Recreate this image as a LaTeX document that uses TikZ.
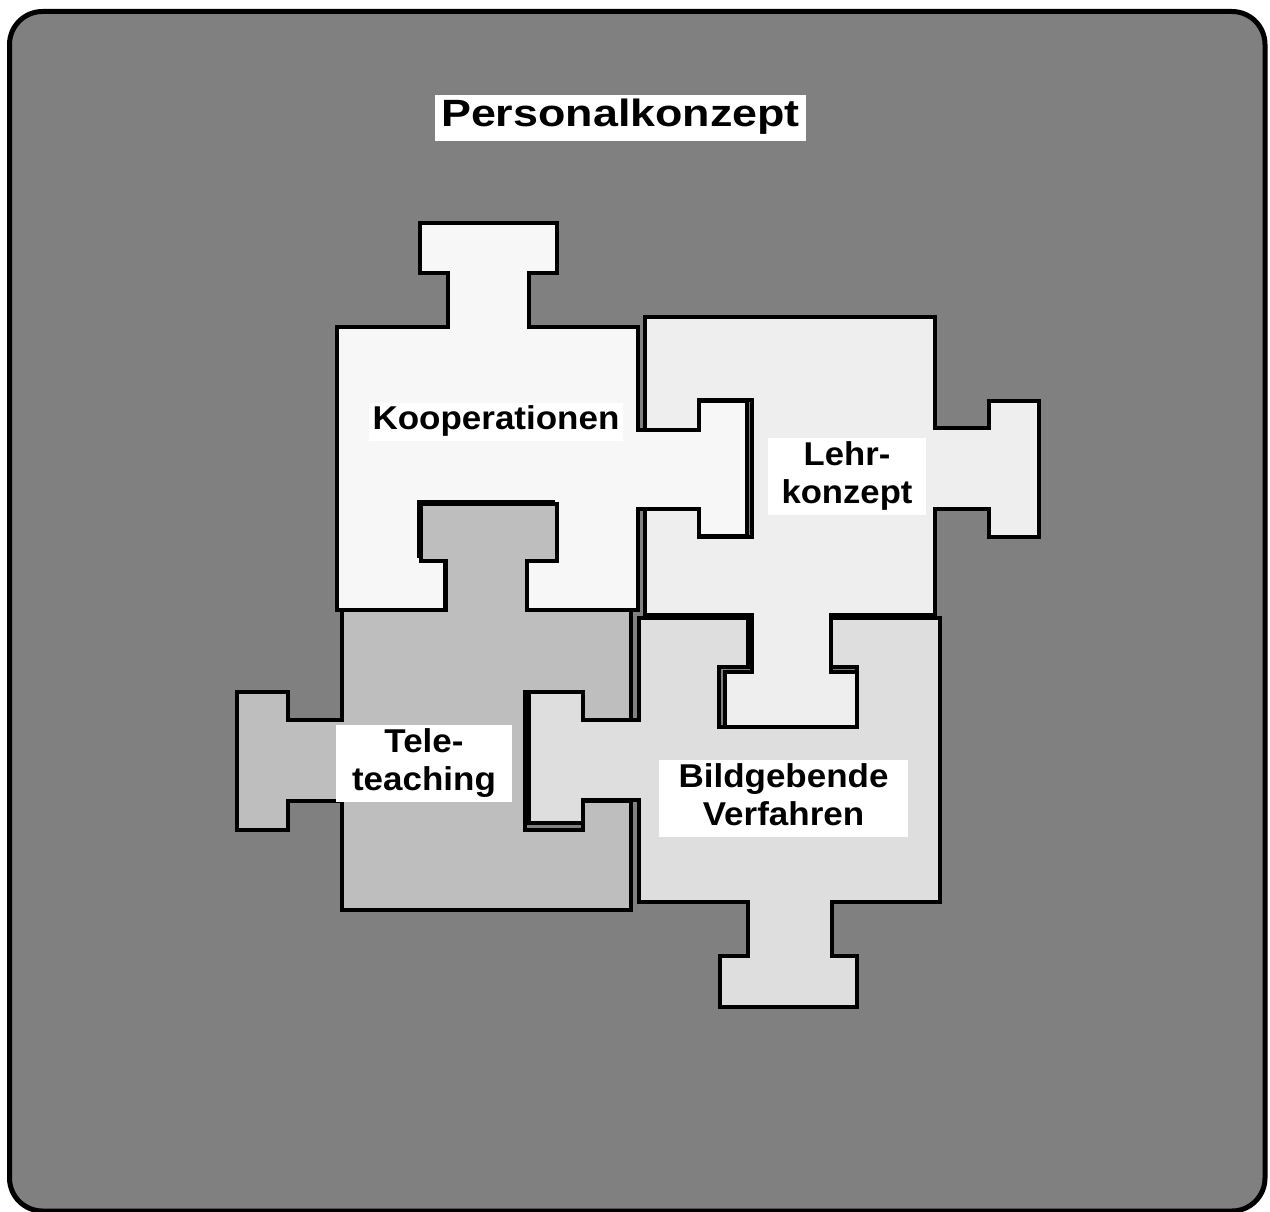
\documentclass[tikz,border=0pt]{standalone}
\usepackage{fontspec}
\setmainfont{Liberation Sans}
\usepackage{graphicx}
\definecolor{bgray}{HTML}{808080}
\definecolor{kcol}{HTML}{F7F7F7}
\definecolor{lcol}{HTML}{EEEEEE}
\definecolor{tcol}{HTML}{BEBEBE}
\definecolor{bcol}{HTML}{DEDEDE}
\newcommand{\lbltext}[2]{\scalebox{#1}[1]{\begin{tabular}{@{}c@{}}#2\end{tabular}}}
\tikzset{
  piece/.style={draw=black, line width=4.8pt, line join=miter},
  lbl/.style={fill=white, inner sep=0pt, font=\bfseries\fontsize{33}{38}\selectfont},
  ttl/.style={fill=white, inner sep=0pt, font=\bfseries\fontsize{38}{44}\selectfont}
}
\begin{document}
\begin{tikzpicture}[x=1pt,y=-1pt]
\useasboundingbox (0,0) rectangle (1270,1212);
% frame
\draw[line width=5pt, fill=bgray, rounded corners=33pt] (9.5,11.5) rectangle (1265,1211);
% Kooperationen
\draw[piece, fill=kcol] (337,327) -- (448,327) -- (448,273) -- (420,273) -- (420,223) -- (557,223) -- (557,273) -- (529,273) -- (529,327) -- (638,327)
  -- (638,430) -- (699,430) -- (699,401) -- (747,401) -- (747,536) -- (699,536) -- (699,509) -- (638,509)
  -- (638,610) -- (525,610) -- (525,556) -- (553,556) -- (553,502) -- (419,502) -- (419,556) -- (445,556) -- (445,610) -- (337,610) -- cycle;
% Lehrkonzept
\draw[piece, fill=lcol] (645,317) -- (935,317) -- (935,428) -- (989,428) -- (989,401) -- (1039,401) -- (1039,537) -- (989,537) -- (989,509) -- (935,509)
  -- (935,615) -- (831,615) -- (831,672) -- (857,672) -- (857,727) -- (725,727) -- (725,672) -- (752,672) -- (752,615) -- (645,615)
  -- (645,509) -- (699,509) -- (699,537) -- (752,537) -- (752,400) -- (699,400) -- (699,430) -- (645,430) -- cycle;
% Teleteaching
\draw[piece, fill=tcol] (342,610) -- (446,610) -- (446,561) -- (421,561) -- (421,504) -- (557,504) -- (557,561) -- (527,561) -- (527,610) -- (631,610)
  -- (631,720) -- (583,720) -- (583,692) -- (525,692) -- (525,830) -- (583,830) -- (583,801) -- (631,801)
  -- (631,910) -- (342,910) -- (342,801) -- (288,801) -- (288,830) -- (237,830) -- (237,692) -- (288,692) -- (288,720) -- (342,720) -- cycle;
% Bildgebende Verfahren
\draw[piece, fill=bcol] (639,618) -- (748,618) -- (748,667) -- (719,667) -- (719,727) -- (857,727) -- (857,667) -- (831,667) -- (831,618) -- (940,618)
  -- (940,902) -- (832,902) -- (832,956) -- (857,956) -- (857,1007) -- (720,1007) -- (720,956) -- (748,956) -- (748,902) -- (639,902)
  -- (639,800) -- (583,800) -- (583,823) -- (529,823) -- (529,692) -- (583,692) -- (583,720) -- (639,720) -- cycle;
% labels
\node[ttl, minimum width=371pt, minimum height=46pt] (title) at (620.5,118) {\lbltext{1.18}{Personalkonzept}};
\node[lbl, minimum width=254pt, minimum height=37pt] (koop) at (496,421.5) {\lbltext{1.06}{Kooperationen}};
\node[lbl, minimum width=158pt, minimum height=77pt] (lehr) at (847,476.5) {\lbltext{1.05}{Lehr-\\konzept}};
\node[lbl, minimum width=176pt, minimum height=77pt] (tele) at (424,763.5) {\lbltext{1.06}{Tele-\\teaching}};
\node[lbl, minimum width=249pt, minimum height=77pt] (bild) at (783.5,798.5) {\lbltext{1.06}{Bildgebende\\Verfahren}};
\end{tikzpicture}
\end{document}
